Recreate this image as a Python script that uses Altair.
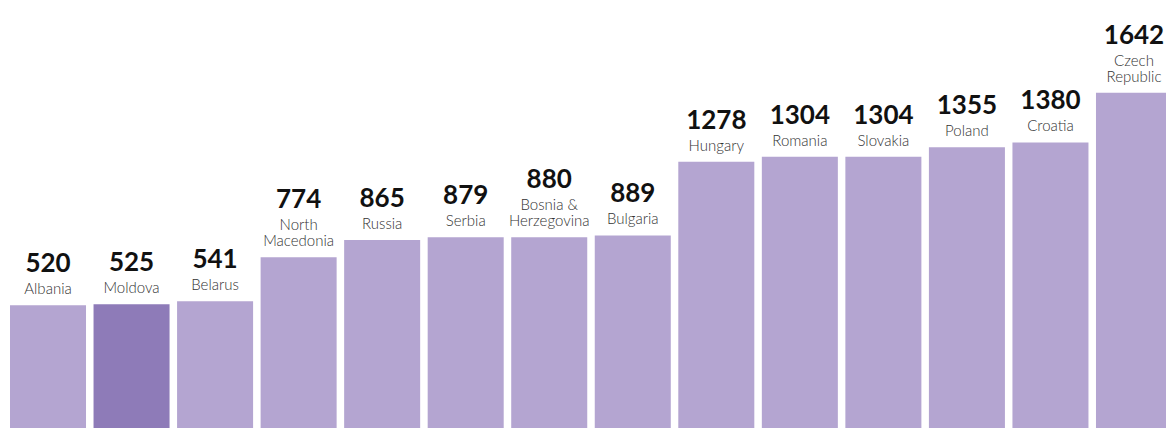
import altair as alt
import pandas as pd

countries = ["Albania", "Moldova", "Belarus", "North Macedonia", "Russia", "Serbia",
             "Bosnia & Herzegovina", "Bulgaria", "Hungary", "Romania", "Slovakia",
             "Poland", "Croatia", "Czech Republic"]
line1 = ["", "", "", "North", "", "", "Bosnia &", "", "", "", "", "", "", "Czech"]
line2 = ["Albania", "Moldova", "Belarus", "Macedonia", "Russia", "Serbia",
         "Herzegovina", "Bulgaria", "Hungary", "Romania", "Slovakia", "Poland",
         "Croatia", "Republic"]
values = [520, 525, 541, 774, 865, 879, 880, 889, 1278, 1304, 1304, 1355, 1380, 1642]
highlight = "Moldova"
y_floor = -128

df = pd.DataFrame({
    "country": countries,
    "line1": line1,
    "line2": line2,
    "value": values,
})
df["nlines"] = [2 if l else 1 for l in line1]
df["floor"] = y_floor

FONT = "Lato"
x = alt.X("country:N", sort=countries, axis=None,
          scale=alt.Scale(paddingInner=0.09, paddingOuter=0, round=False,
                          range=[0, 1162]))
y = alt.Y("value:Q", axis=None,
          scale=alt.Scale(domain=[y_floor, 2090], zero=False, nice=False))

base = alt.Chart(df).encode(x=x, y=y)

bars = base.mark_bar().encode(
    y2=alt.Y2("floor:Q"),
    color=alt.condition(alt.datum.country == highlight,
                        alt.value("#8e7bb8"), alt.value("#b4a5d1")),
)

name_bottom = base.mark_text(font=FONT, fontSize=15, fontWeight=300, color="#333333",
                             baseline="alphabetic", dy=-11).encode(text="line2:N")
name_top = base.mark_text(font=FONT, fontSize=15, fontWeight=300, color="#333333",
                          baseline="alphabetic", dy=-27).encode(text="line1:N")
num1 = base.mark_text(font=FONT, fontSize=26, fontWeight="bold", color="#111111",
                      baseline="alphabetic", dy=-33).encode(
    text="value:Q").transform_filter(alt.datum.nlines == 1)
num2 = base.mark_text(font=FONT, fontSize=26, fontWeight="bold", color="#111111",
                      baseline="alphabetic", dy=-49).encode(
    text="value:Q").transform_filter(alt.datum.nlines == 2)

chart = alt.layer(bars, name_bottom, name_top, num1, num2).properties(
    width=1156, height=420,
    background="white",
    autosize=alt.AutoSizeParams(type="none"),
    padding={"left": 2, "top": 0, "right": 0, "bottom": 0},
).configure_view(stroke="transparent", strokeWidth=0)

chart.save("out.html", embed_options={"renderer": "svg", "actions": False})
